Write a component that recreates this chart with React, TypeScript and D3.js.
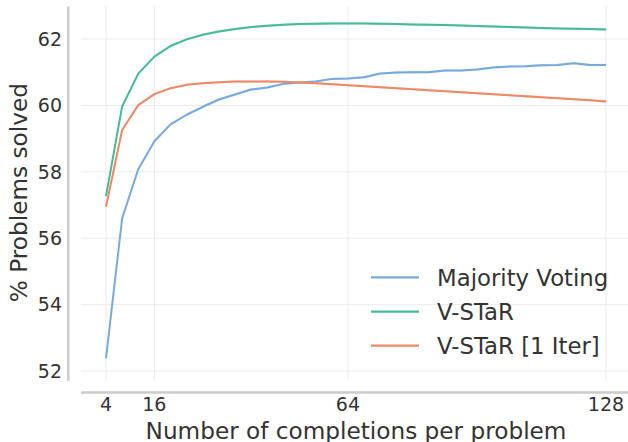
import React from "react";
import * as d3 from "d3";

const completions = [4, 8, 12, 16, 20, 24, 28, 32, 36, 40, 44, 48, 52, 56, 60, 64, 68, 72, 76, 80, 84, 88, 92, 96, 100, 104, 108, 112, 116, 120, 124, 128];
const majorityVoting = [52.38, 56.6, 58.08, 58.92, 59.43, 59.72, 59.96, 60.18, 60.33, 60.48, 60.54, 60.65, 60.69, 60.72, 60.8, 60.81, 60.85, 60.96, 60.99, 61.0, 61.0, 61.05, 61.05, 61.08, 61.14, 61.17, 61.18, 61.21, 61.22, 61.27, 61.22, 61.22];
const vstar = [57.27, 59.97, 60.96, 61.47, 61.79, 61.99, 62.13, 62.23, 62.3, 62.36, 62.4, 62.43, 62.45, 62.46, 62.47, 62.47, 62.47, 62.46, 62.45, 62.44, 62.43, 62.42, 62.41, 62.39, 62.38, 62.36, 62.35, 62.33, 62.32, 62.31, 62.3, 62.29];
const vstar1Iter = [56.95, 59.26, 60.01, 60.34, 60.52, 60.62, 60.67, 60.7, 60.72, 60.72, 60.72, 60.71, 60.69, 60.67, 60.64, 60.61, 60.58, 60.55, 60.52, 60.49, 60.46, 60.43, 60.4, 60.37, 60.34, 60.31, 60.28, 60.25, 60.22, 60.19, 60.16, 60.12];
const seriesNames = ["Majority Voting", "V-STaR", "V-STaR [1 Iter]"];
const seriesColors = ["#77AADD", "#44BB99", "#EE8866"];
const xTicks = [4, 16, 64, 128];
const yTicks = [52, 54, 56, 58, 60, 62];

const W = 628;
const H = 442;
const FONT = "'DejaVu Sans', sans-serif";
const TEXT = "#333333";

export default function App() {
  const x = d3.scaleLinear().domain([-2.2, 134.2]).range([81, 631]);
  const y = d3.scaleLinear().domain([51.71, 62.98]).range([380.7, 6.5]);
  const allSeries = [majorityVoting, vstar, vstar1Iter];

  const line = d3
    .line<number>()
    .x((_, i) => x(completions[i]))
    .y((v) => y(v));
  const band = d3
    .area<number>()
    .x((_, i) => x(completions[i]))
    .y0((v) => y(v - 0.035))
    .y1((v) => y(v + 0.035));

  const legendY = [277.3, 311.7, 345.7];

  return (
    <svg
      width={W}
      height={H}
      style={{ position: "absolute", left: 0, top: 0, background: "#fff" }}
      fontFamily={FONT}
    >
      <rect x={0} y={0} width={W} height={H} fill="#fff" />
      {yTicks.map((t) => (
        <line key={"gy" + t} x1={81} x2={631} y1={y(t)} y2={y(t)} stroke="#ebebeb" strokeWidth={1} />
      ))}
      {xTicks.map((t) => (
        <line key={"gx" + t} x1={x(t)} x2={x(t)} y1={6.5} y2={380.7} stroke="#ebebeb" strokeWidth={1} />
      ))}
      <line x1={68.3} x2={68.3} y1={6.5} y2={380.7} stroke="#cccccc" strokeWidth={2.5} />
      <line x1={81} x2={631} y1={392.5} y2={392.5} stroke="#cccccc" strokeWidth={2.5} />
      {yTicks.map((t) => (
        <text key={"ty" + t} x={62} y={y(t) + 6.8} textAnchor="end" fontSize={19} fill={TEXT}>
          {t}
        </text>
      ))}
      {xTicks.map((t) => (
        <text key={"tx" + t} x={x(t)} y={411} textAnchor="middle" fontSize={19} fill={TEXT}>
          {t}
        </text>
      ))}
      <text x={356} y={438.5} textAnchor="middle" fontSize={23.2} fill={TEXT}>
        Number of completions per problem
      </text>
      <text
        transform={`translate(26.5, 192.6) rotate(-90)`}
        textAnchor="middle"
        fontSize={23.2}
        fill={TEXT}
      >
        % Problems solved
      </text>
      {allSeries.map((s, i) => (
        <g key={"s" + i}>
          <path d={band(s) || ""} fill={seriesColors[i]} opacity={0.3} />
          <path d={line(s) || ""} fill="none" stroke={seriesColors[i]} strokeWidth={2} strokeLinejoin="round" />
        </g>
      ))}
      {seriesNames.map((n, i) => (
        <g key={"l" + i}>
          <line x1={371} x2={419} y1={legendY[i]} y2={legendY[i]} stroke={seriesColors[i]} strokeWidth={2.2} />
          <text x={437} y={legendY[i] + 8.3} fontSize={22.8} fill={TEXT}>
            {n}
          </text>
        </g>
      ))}
    </svg>
  );
}
